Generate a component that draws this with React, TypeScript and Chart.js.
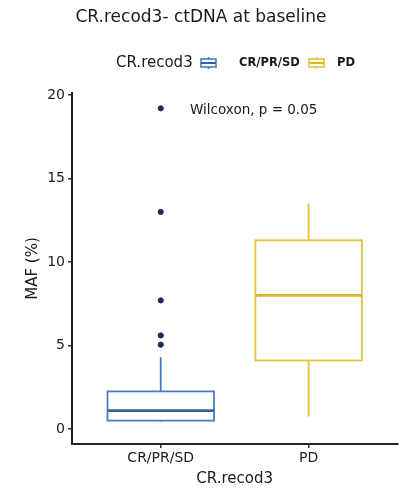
import React, { useEffect, useRef } from "react";
import { Chart, registerables } from "chart.js";

Chart.register(...registerables);

const categories = ["CR/PR/SD", "PD"];
const yTicks = [0, 5, 10, 15, 20];
const whiskerLow = [0.45, 0.75];
const q1 = [0.5, 4.1];
const median = [1.1, 8.0];
const q3 = [2.25, 11.3];
const whiskerHigh = [4.3, 13.5];
const outliersCRPRSD = [19.2, 13.0, 7.7, 5.6, 5.05];
const boxColors = ["#4a7dbf", "#e6c13a"];
const medianColors = ["#3363a6", "#dcb52c"];

const FONT = "'DejaVu Sans', sans-serif";

const boxPlugin = {
  id: "boxes",
  beforeDatasetsDraw(chart: any) {
    const { ctx } = chart;
    const xs = chart.scales.x;
    const ys = chart.scales.y;
    const half = 0.36;
    ctx.save();
    categories.forEach((_, i) => {
      const cx = xs.getPixelForValue(i + 1);
      const l = xs.getPixelForValue(i + 1 - half);
      const r = xs.getPixelForValue(i + 1 + half);
      const yQ1 = ys.getPixelForValue(q1[i]);
      const yQ3 = ys.getPixelForValue(q3[i]);
      const yMed = ys.getPixelForValue(median[i]);
      const yLo = ys.getPixelForValue(whiskerLow[i]);
      const yHi = ys.getPixelForValue(whiskerHigh[i]);
      ctx.strokeStyle = boxColors[i];
      ctx.lineWidth = 1.8;
      ctx.beginPath();
      ctx.moveTo(cx, yQ3);
      ctx.lineTo(cx, yHi);
      ctx.moveTo(cx, yQ1);
      ctx.lineTo(cx, yLo);
      ctx.stroke();
      ctx.fillStyle = "#ffffff";
      ctx.fillRect(l, yQ3, r - l, yQ1 - yQ3);
      ctx.strokeRect(l, yQ3, r - l, yQ1 - yQ3);
      ctx.strokeStyle = medianColors[i];
      ctx.lineWidth = 2.6;
      ctx.beginPath();
      ctx.moveTo(l, yMed);
      ctx.lineTo(r, yMed);
      ctx.stroke();
    });
    ctx.restore();
  },
  afterDraw(chart: any) {
    const { ctx, chartArea } = chart;
    ctx.save();
    ctx.fillStyle = "#1a1a1a";
    ctx.textBaseline = "middle";
    // title
    ctx.font = `17px ${FONT}`;
    ctx.textAlign = "center";
    ctx.fillText("CR.recod3- ctDNA at baseline", 201, 18);
    // legend
    ctx.font = `15px ${FONT}`;
    ctx.textAlign = "left";
    ctx.fillText("CR.recod3", 116, 63);
    const icon = (x: number, y: number, c: string, m: string) => {
      ctx.strokeStyle = c;
      ctx.lineWidth = 1.6;
      ctx.beginPath();
      ctx.moveTo(x + 8.5, y);
      ctx.lineTo(x + 8.5, y + 2);
      ctx.moveTo(x + 8.5, y + 10);
      ctx.lineTo(x + 8.5, y + 12);
      ctx.stroke();
      ctx.strokeRect(x + 1, y + 2, 15, 8);
      ctx.strokeStyle = m;
      ctx.lineWidth = 2;
      ctx.beginPath();
      ctx.moveTo(x + 1, y + 6);
      ctx.lineTo(x + 16, y + 6);
      ctx.stroke();
    };
    icon(200, 57, boxColors[0], medianColors[0]);
    icon(308, 57, boxColors[1], medianColors[1]);
    ctx.fillStyle = "#1a1a1a";
    ctx.font = `bold 11.5px ${FONT}`;
    ctx.fillText(categories[0], 239, 63);
    ctx.fillText(categories[1], 337, 63);
    // annotation
    ctx.font = `13.5px ${FONT}`;
    ctx.fillText("Wilcoxon, p = 0.05", 190, 110);
    // axis titles
    ctx.font = `15px ${FONT}`;
    ctx.textAlign = "center";
    ctx.fillText("CR.recod3", (chartArea.left + chartArea.right) / 2, 479);
    ctx.translate(33, (chartArea.top + chartArea.bottom) / 2);
    ctx.rotate(-Math.PI / 2);
    ctx.fillText("MAF (%)", 0, 0);
    ctx.restore();
  },
};

export default function App() {
  const ref = useRef<HTMLCanvasElement>(null);
  useEffect(() => {
    document.body.style.margin = "0";
    const chart = new Chart(ref.current!, {
      type: "scatter",
      data: {
        datasets: [
          {
            label: categories[0],
            data: outliersCRPRSD.map((v) => ({ x: 1, y: v })),
            backgroundColor: "#1e2b5c",
            borderColor: "#1e2b5c",
            pointRadius: 2.6,
            pointHoverRadius: 2.6,
          },
        ],
      },
      options: {
        animation: false,
        responsive: false,
        events: [],
        layout: { padding: { top: 93, left: 0, right: 0, bottom: 0 } },
        plugins: { legend: { display: false }, tooltip: { enabled: false } },
        scales: {
          x: {
            type: "linear",
            min: 0.4,
            max: 2.6,
            afterBuildTicks: (axis: any) => {
              axis.ticks = categories.map((_, i) => ({ value: i + 1 }));
            },
            afterFit: (s: any) => {
              s.height = 45;
            },
            ticks: {
              callback: (v: any) => categories[Number(v) - 1] ?? "",
              font: { family: FONT, size: 14 },
              color: "#222",
              padding: 2,
              maxRotation: 0,
              autoSkip: false,
            },
            grid: { drawOnChartArea: false, drawTicks: true, tickLength: 4, color: "#333", lineWidth: 1.5 },
            border: { display: true, color: "#222", width: 2 },
          },
          y: {
            type: "linear",
            min: -0.9,
            max: 20.12,
            afterBuildTicks: (axis: any) => {
              axis.ticks = yTicks.map((v) => ({ value: v }));
            },
            afterFit: (s: any) => {
              s.width = 72;
            },
            ticks: {
              font: { family: FONT, size: 14 },
              color: "#222",
              padding: 3,
            },
            grid: { drawOnChartArea: false, drawTicks: true, tickLength: 4, color: "#333", lineWidth: 1.5 },
            border: { display: true, color: "#222", width: 2 },
          },
        },
      },
      plugins: [boxPlugin],
    } as any);
    return () => chart.destroy();
  }, []);
  return <canvas ref={ref} width={401} height={489} style={{ display: "block" }} />;
}
